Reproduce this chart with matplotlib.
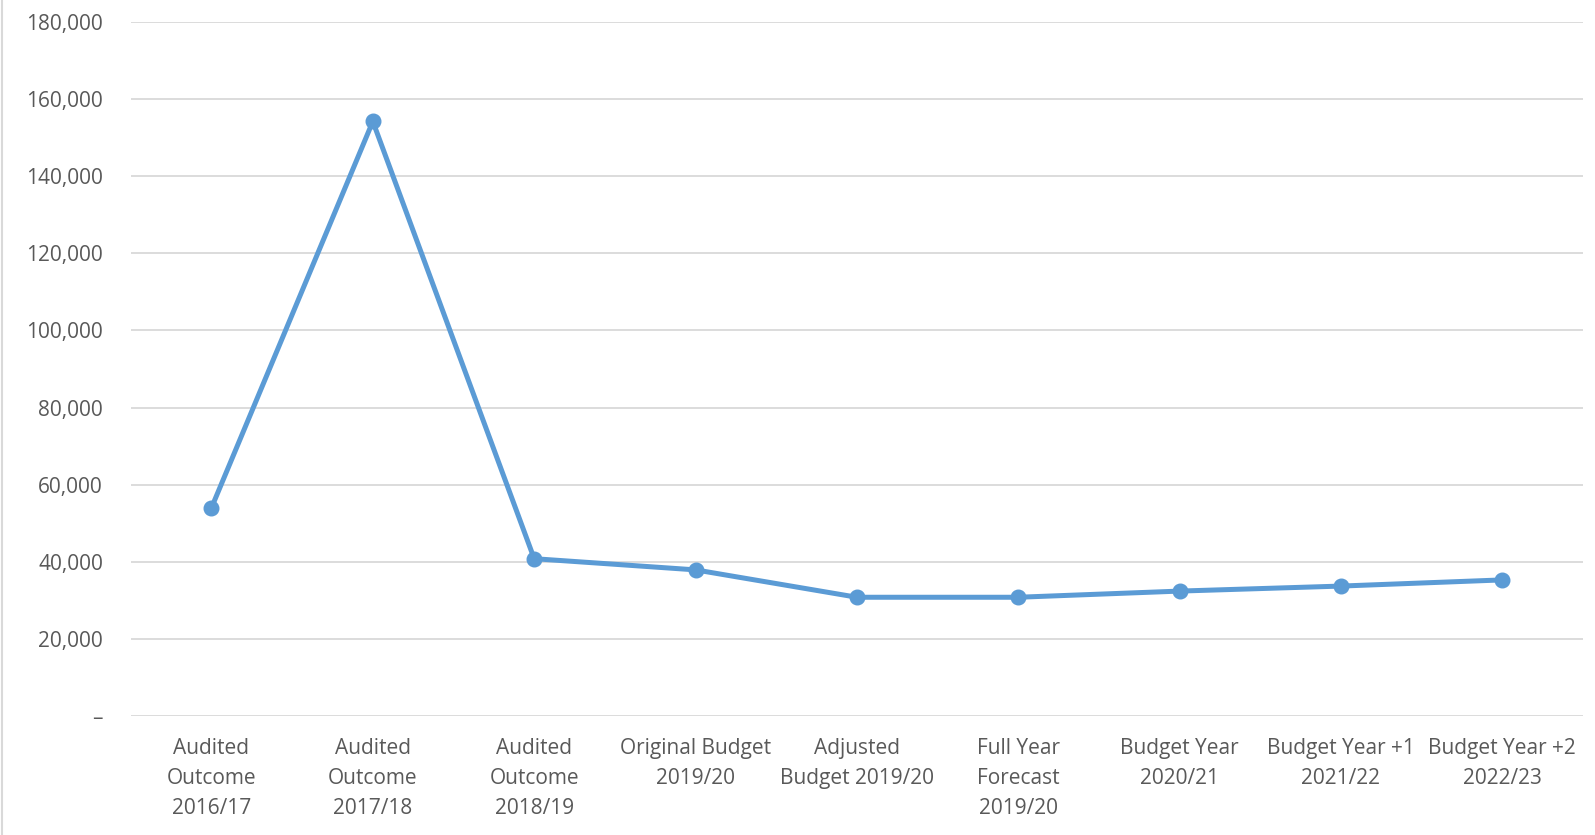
import matplotlib

matplotlib.use("Agg")
import matplotlib.pyplot as plt
from matplotlib.lines import Line2D
from matplotlib.ticker import FuncFormatter

categories = [
    "Audited\nOutcome\n2016/17",
    "Audited\nOutcome\n2017/18",
    "Audited\nOutcome\n2018/19",
    "Original Budget\n2019/20",
    "Adjusted\nBudget 2019/20",
    "Full Year\nForecast\n2019/20",
    "Budget Year\n2020/21",
    "Budget Year +1\n2021/22",
    "Budget Year +2\n2022/23",
]
values = [54000, 154200, 40800, 37900, 30800, 30800, 32400, 33700, 35300]
y_ticks = [0, 20000, 40000, 60000, 80000, 100000, 120000, 140000, 160000, 180000]

text_color = "#595959"
grid_color = "#d9d9d9"
line_color = "#5b9bd5"

plt.rcParams["font.family"] = ["Open Sans", "DejaVu Sans"]

fig = plt.figure(figsize=(15.95, 8.35), dpi=100)
ax = fig.add_axes([0.082, 0.1425, 0.9105, 0.8312])

x = list(range(len(categories)))
ax.plot(x, values, color=line_color, linewidth=3.6, marker="o",
        markersize=10.5, zorder=3)

ax.set_xlim(-0.5, len(categories) - 0.5)
ax.set_ylim(0, 180000)
ax.set_yticks(y_ticks)
ax.yaxis.set_major_formatter(
    FuncFormatter(lambda v, p: "–" if v == 0 else f"{v:,.0f}"))
ax.set_xticks(x)
ax.set_xticklabels(categories, linespacing=1.57)

ax.grid(True, axis="y", color=grid_color, linewidth=1.3)
ax.set_axisbelow(True)
for s in ax.spines.values():
    s.set_visible(False)
ax.tick_params(axis="y", length=0, pad=20, labelsize=15, labelcolor=text_color)
ax.tick_params(axis="x", length=0, pad=16, labelsize=15, labelcolor=text_color)

# thin border on the left edge of the chart area
fig.add_artist(Line2D([0.0015, 0.0015], [0, 1], color=grid_color,
                      linewidth=1.5, transform=fig.transFigure))

fig.savefig("out.png", dpi=100)
